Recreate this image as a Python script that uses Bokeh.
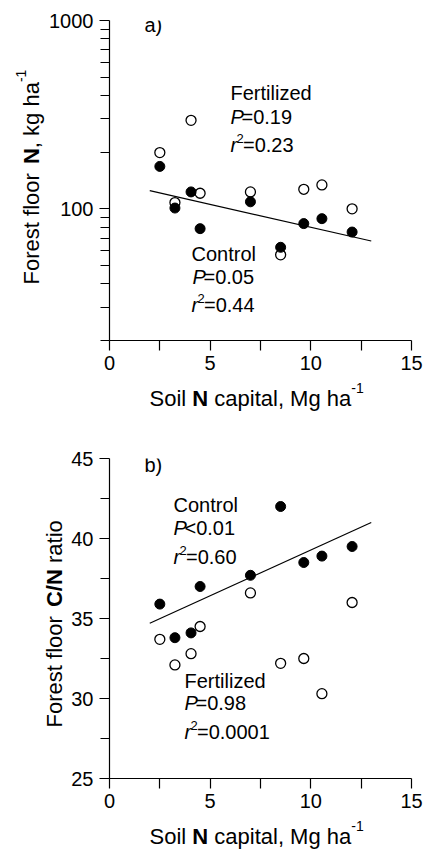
import math
from bokeh.plotting import figure
from bokeh.models import Label, FixedTicker, Range1d, PrintfTickFormatter
from bokeh.layouts import column, row
from bokeh.embed import file_html
from bokeh.resources import INLINE

FONT = "Liberation Sans"

# ---------------- data ----------------
soil_N = [2.5, 3.25, 4.05, 4.5, 7.0, 8.5, 9.65, 10.55, 12.05]

ffN_fertilized = [199, 108, 295, 121, 123, 57, 127, 134, 100]
ffN_control = [168, 101, 123, 78.5, 109, 62.5, 83.5, 88.7, 75.3]
fitN_x = [2.0, 13.0]
fitN_y = [125, 67.5]

cn_control = [35.9, 33.8, 34.1, 37.0, 37.7, 42.0, 38.5, 38.9, 39.5]
cn_fertilized = [33.7, 32.1, 32.8, 34.5, 36.6, 32.2, 32.5, 30.3, 36.0]
fitCN_x = [2.0, 13.0]
fitCN_y = [34.7, 41.0]

x_ticks = [0, 5, 10, 15]
x_minor = [2.5, 7.5, 12.5]
yN_ticks = [100, 1000]
yN_minor = [20, 30, 40, 50, 60, 70, 80, 90, 200, 300, 400, 500, 600, 700, 800, 900]
yCN_ticks = [25, 30, 35, 40, 45]
yCN_minor = [27.5, 32.5, 37.5, 42.5]

# Arial / Liberation Sans advance widths (per 1000 em)
REG = {' ': 278, ',': 278, '-': 333, '.': 278, '/': 278, '=': 584, '<': 584,
       '(': 333, ')': 333, 'C': 722, 'F': 611, 'M': 833, 'N': 722, 'P': 667,
       'S': 667, 'a': 556, 'b': 556, 'c': 500, 'd': 556, 'e': 556, 'g': 556,
       'h': 556, 'i': 222, 'k': 500, 'l': 222, 'n': 556, 'o': 556, 'p': 556,
       'r': 333, 's': 500, 't': 278, 'z': 500}
for d in "0123456789":
    REG[d] = 556

MID = (0.905 - 0.212) / 2  # em: middle of the text box above the baseline


def text_width(s, size):
    return sum(REG.get(ch, 556) for ch in s) * size / 1000.0


def add_text(p, segs, sx, sy, angle=0.0):
    """segs: (text, size, style, rise, advance or None); (sx, sy) = baseline start,
    screen units from the frame's bottom-left."""
    off = 0.0
    for text, size, style, rise, adv in segs:
        stripped = text.strip(" ")
        lead = text_width(text[:len(text) - len(text.lstrip(" "))], size)
        w = text_width(stripped, size)
        r = rise + MID * size
        if angle == 0:
            x, y = sx + off + lead, sy + r
            align = "left"
        else:
            x, y = sx - r, sy + off + lead + w / 2
            align = "center"
        p.add_layout(Label(x=x, y=y, x_units="screen", y_units="screen",
                           text=stripped, text_font=FONT,
                           text_font_size=f"{size}px", text_font_style=style,
                           text_color="black", text_baseline="middle",
                           text_align=align, angle=angle))
        off += adv if adv is not None else text_width(text, size)


def p_line(p, val, sx, sy):
    add_text(p, [("P", 20, "italic", 0, 11), (val, 20, "normal", 0, None)], sx, sy)


def r_line(p, val, sx, sy):
    add_text(p, [("r", 20, "italic", 0, 6), ("2", 13, "normal", 8, 6.5),
                 (val, 20, "normal", 0, None)], sx, sy)


def style_axes(p):
    for ax in (p.xaxis[0], p.yaxis[0]):
        ax.axis_line_color = "black"
        ax.axis_line_width = 1.2
        ax.major_tick_line_color = "black"
        ax.minor_tick_line_color = "black"
        ax.major_tick_line_width = 1.2
        ax.minor_tick_line_width = 1.2
        ax.major_tick_in = 0
        ax.major_tick_out = 10
        ax.minor_tick_in = 0
        ax.minor_tick_out = 9
        ax.major_label_text_font = FONT
        ax.major_label_text_font_size = "20px"
        ax.major_label_text_color = "black"
    p.xaxis.minor_tick_out = 10
    p.xaxis.major_label_standoff = 5
    p.yaxis.major_label_standoff = 6
    p.xaxis.ticker = FixedTicker(ticks=x_ticks, minor_ticks=x_minor)
    p.grid.visible = False
    p.outline_line_color = None
    p.background_fill_color = "white"
    p.border_fill_color = "white"


def label_fig(w, h):
    f = figure(width=w, height=h, min_border=0, x_range=Range1d(0, 1), y_range=Range1d(0, 1),
               x_axis_location=None, y_axis_location=None,
               output_backend="svg", toolbar_location=None)
    f.grid.visible = False
    f.outline_line_color = None
    f.background_fill_color = "white"
    f.border_fill_color = "white"
    return f


XLAB = [("Soil ", 22, "normal", 0, None), ("N", 22, "bold", 0, None),
        (" capital, Mg ha", 22, "normal", 0, None), ("-1", 14, "normal", 14, None)]

# ---------------- panel a ----------------
p1 = figure(width=378, height=378, min_border_left=62, min_border_right=13,
            min_border_top=20, min_border_bottom=38, y_axis_type="log",
            x_range=Range1d(0, 15), y_range=Range1d(20, 1000),
            output_backend="svg", toolbar_location=None)
style_axes(p1)
p1.yaxis.ticker = FixedTicker(ticks=yN_ticks, minor_ticks=yN_minor)
p1.yaxis.formatter = PrintfTickFormatter(format="%d")

p1.line(fitN_x, fitN_y, line_color="black", line_width=1.2)
p1.scatter(soil_N, ffN_fertilized, marker="circle", size=10, fill_color="white",
           line_color="black", line_width=1.3)
p1.scatter(soil_N, ffN_control, marker="circle", size=10, fill_color="black",
           line_color="black")

add_text(p1, [("a)", 20, "normal", 0, None)], 35, 309)
add_text(p1, [("Fertilized", 20, "normal", 0, None)], 121, 241)
p_line(p1, "=0.19", 121, 217)
r_line(p1, "=0.23", 121, 189)
add_text(p1, [("Control", 20, "normal", 0, None)], 82, 80)
p_line(p1, "=0.05", 83, 57)
r_line(p1, "=0.44", 82, 29)

# y-label strip; a row aligns its frame with p1's frame (screen y from frame bottom)
yl1 = label_fig(46, 378)
add_text(yl1, [("Forest floor ", 22, "normal", 0, None), ("N", 22, "bold", 0, None),
               (", kg ha", 22, "normal", 0, None), ("-1", 14, "normal", 14, None)],
         39, 53, angle=math.pi / 2)

xl1 = label_fig(424, 50)
add_text(xl1, XLAB, 149, 22)

# ---------------- panel b ----------------
p2 = figure(width=356, height=388, min_border_left=40, min_border_right=13,
            min_border_top=30, min_border_bottom=38,
            x_range=Range1d(0, 15), y_range=Range1d(25, 45),
            output_backend="svg", toolbar_location=None)
style_axes(p2)
p2.yaxis.ticker = FixedTicker(ticks=yCN_ticks, minor_ticks=yCN_minor)

p2.line(fitCN_x, fitCN_y, line_color="black", line_width=1.2)
p2.scatter(soil_N, cn_fertilized, marker="circle", size=10, fill_color="white",
           line_color="black", line_width=1.3)
p2.scatter(soil_N, cn_control, marker="circle", size=10, fill_color="black",
           line_color="black")

add_text(p2, [("b)", 20, "normal", 0, None)], 35, 307)
add_text(p2, [("Control", 20, "normal", 0, None)], 64, 267)
add_text(p2, [("P", 20, "italic", 0, 11), ("<0.01", 20, "normal", 0, None)], 64, 244)
r_line(p2, "=0.60", 64, 215)
add_text(p2, [("Fertilized", 20, "normal", 0, None)], 75, 91)
p_line(p2, "=0.98", 75, 69)
r_line(p2, "=0.0001", 75, 40)

yl2 = label_fig(68, 388)
add_text(yl2, [("Forest floor ", 22, "normal", 0, None), ("C/N", 22, "bold", 0, None),
               (" ratio", 22, "normal", 0, None)],
         62, 48, angle=math.pi / 2)

xl2 = label_fig(424, 33)
add_text(xl2, XLAB, 149, 5)

layout = column(row(yl1, p1, spacing=0), xl1, row(yl2, p2, spacing=0), xl2, spacing=0)
open("out.html", "w").write(file_html(layout, INLINE))
